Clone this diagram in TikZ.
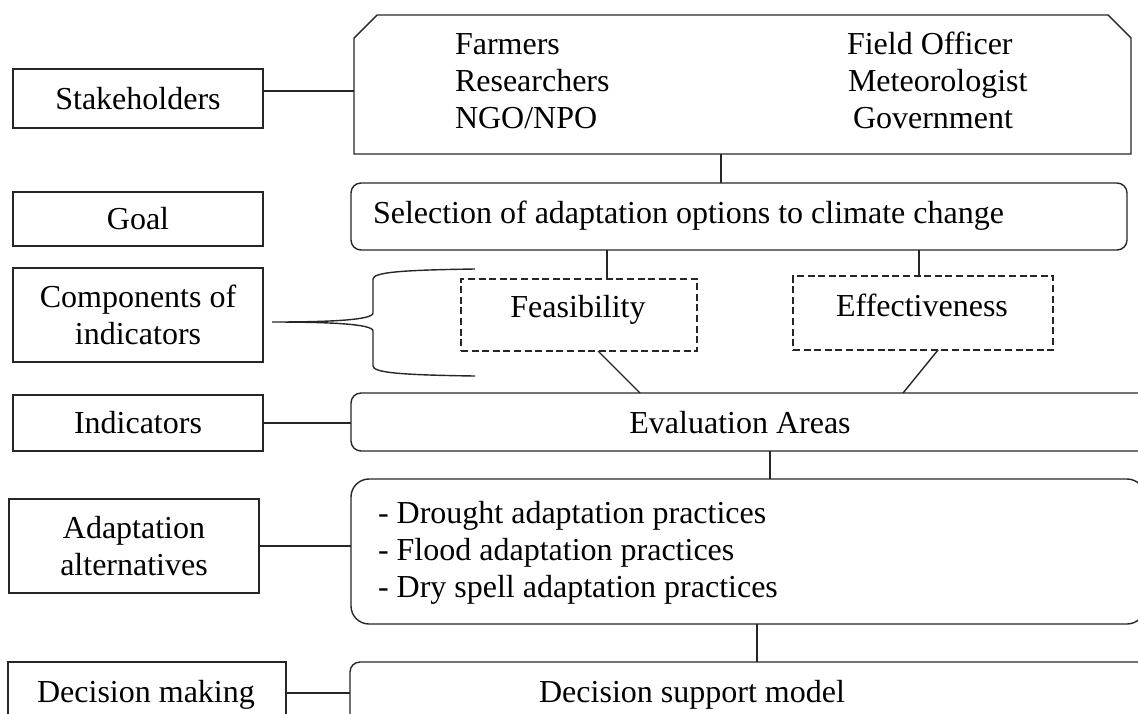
\documentclass[tikz,border=0pt]{standalone}
\usepackage{fontspec}
\setmainfont{Liberation Serif}
\begin{document}
\begin{tikzpicture}[x=0.5pt,y=-0.5pt,
  every node/.style={font=\fontsize{16}{18.3}\selectfont, inner sep=0pt, outer sep=0pt},
  ln/.style={draw=black!85, line width=0.7pt},
  lbox/.style={ln, rectangle, align=center, minimum width=125pt},
  rbox/.style={ln, rectangle, rounded corners=5pt},
  dbox/.style={ln, rectangle, dash pattern=on 3.5pt off 1.8pt},
  txt/.style={anchor=base west},
]
\useasboundingbox (0,0) rectangle (1138,713);
\clip (0,0) rectangle (1138,713);

% left-hand labels
\node[lbox, minimum height=29.5pt] (stake) at (138,98.5) {Stakeholders};
\node[lbox, minimum height=27pt] (goal) at (138,219) {Goal};
\node[lbox, minimum height=47pt] (comp) at (138,315) {Components of\\indicators};
\node[lbox, minimum height=28pt] (ind) at (138,423) {Indicators};
\node[lbox, minimum height=47pt] (alt) at (134,546) {Adaptation\\alternatives};
\node[lbox, minimum width=139pt, minimum height=31.5pt] (dec) at (147,693.5) {};
\node[anchor=base] at (146,702) {Decision making};

% stakeholder group: box with its two upper corners cut off
\node[rectangle, minimum width=388.5pt, minimum height=69.5pt] (team) at (742.5,84.5) {};
\draw[ln] (team.south west) -- ([yshift=-11.5pt]team.north west)
  -- ([xshift=11.5pt]team.north west) -- ([xshift=-11.5pt]team.north east)
  -- ([yshift=-11.5pt]team.north east) -- (team.south east) -- cycle;
\node[txt] at (455,54) {Farmers};
\node[txt] at (455,91) {Researchers};
\node[txt] at (455,128) {NGO/NPO};
\node[txt] at (847,54) {Field Officer};
\node[txt] at (848,91) {Meteorologist};
\node[txt] at (853,128) {Government};

% goal
\node[rbox, minimum width=388pt, minimum height=33.5pt] (sel) at (739,216.5) {};
\node[txt] at (373,223) {Selection of adaptation options to climate change};

% components
\node[dbox, minimum width=118pt, minimum height=36pt] (feas) at (579,315) {};
\node at (578,310) {Feasibility};
\node[dbox, minimum width=130pt, minimum height=37pt] (eff) at (923,313) {};
\node at (922,305) {Effectiveness};

% indicators
\node[rbox, minimum width=404.5pt, minimum height=29pt] (eval) at (755.5,422) {};
\node[anchor=base] at (740,433) {Evaluation Areas};

% alternatives
\node[ln, rectangle, rounded corners=9pt, minimum width=397pt, minimum height=72.5pt] (prac) at (748,551.5) {};
\node[txt] at (378,523) {- Drought adaptation practices};
\node[txt] at (378,560) {- Flood adaptation practices};
\node[txt] at (378,597) {- Dry spell adaptation practices};

% decision model
\node[rbox, minimum width=405pt, minimum height=31.5pt] (dsm) at (755,693.5) {};
\node[anchor=base] at (692,702) {Decision support model};

% connectors
\draw[ln] (stake.east |- 0,91) -- (team.west |- 0,91);
\draw[ln] (team.south -| 721,0) -- (sel.north -| 721,0);
\draw[ln] (sel.south -| 607,0) -- (feas.north -| 607,0);
\draw[ln] (sel.south -| 919,0) -- (eff.north -| 919,0);
\draw[ln] (feas.south -| 598,0) -- (eval.north -| 640,0);
\draw[ln] (eff.south -| 938,0) -- (eval.north -| 903,0);
\draw[ln] (ind.east) -- (ind.east -| eval.west);
\draw[ln] (eval.south -| 770,0) -- (prac.north -| 770,0);
\draw[ln] (alt.east) -- (alt.east -| prac.west);
\draw[ln] (prac.south -| 757,0) -- (dsm.north -| 757,0);
\draw[ln] (dec.east |- 0,693) -- (dsm.west |- 0,693);

% brace grouping the two components
\coordinate (btop) at (475,269);
\coordinate (bbot) at (475,376);
\coordinate (btip) at (272,322);
\draw[ln] (btop) .. controls (405,270) and (373,272) .. (373,279)
  -- (373,313) .. controls (373,320) and (330,322) .. (btip)
  .. controls (330,322) and (373,324) .. (373,331)
  -- (373,366) .. controls (373,373) and (405,375) .. (bbot);
\end{tikzpicture}
\end{document}
